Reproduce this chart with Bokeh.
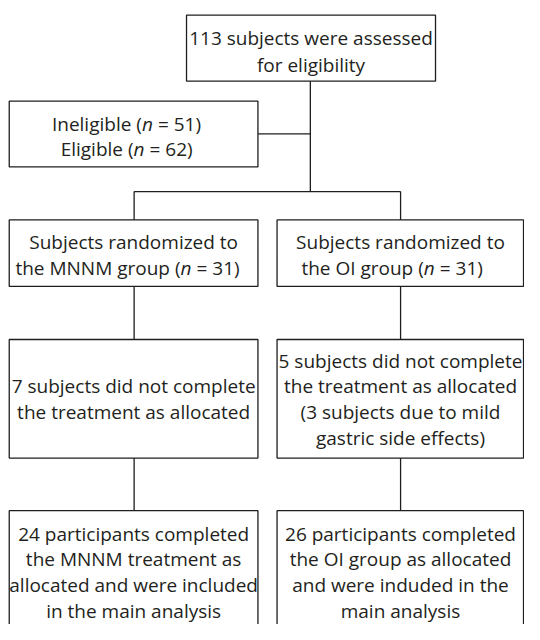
from bokeh.plotting import figure
from bokeh.models import Range1d
from bokeh.core.properties import value
from bokeh.embed import file_html
from bokeh.resources import INLINE

# ---- data (numbers shown in the flow chart) ----
assessed = 113
ineligible = 51
eligible = 62
randomized = [31, 31]          # MNNM, OI
not_completed = [7, 5]
gastric = 3
completed = [24, 26]
group_names = ["MNNM", "OI"]

# ---- text content ----
top_lines = [f"{assessed} subjects were assessed", "for eligibility"]
elig_lines = [("Ineligible (", "n", f"= {ineligible})"), ("Eligible (", "n", f"= {eligible})")]
rand_lines = [
    ["Subjects randomized to", (f"the {group_names[0]} group (", "n", f"= {randomized[0]})")],
    ["Subjects randomized to", (f"the {group_names[1]} group (", "n", f"= {randomized[1]})")],
]
mid_lines = [
    [f"{not_completed[0]} subjects did not complete", "the treatment as allocated"],
    [f"{not_completed[1]} subjects did not complete", "the treatment as allocated",
     f"({gastric} subjects due to mild", "gastric side effects)"],
]
bot_lines = [
    [f"{completed[0]} participants completed", f"the {group_names[0]} treatment as",
     "allocated and were included", "in the main analysis"],
    [f"{completed[1]} participants completed", f"the {group_names[1]} group as allocated",
     "and were induded in the", "main analysis"],
]

# ---- layout (reference pixel coordinates) ----
COLX = [137.2, 412.2]
BOX_L = [(9, 265.3), (285, 539.0)]
TOP_BOX = (191.7, 448.3, 15, 82.7)
ELIG_BOX = (9, 265.3, 103.3, 170.7)
RAND_Y = (225, 293.3)
MID_Y = (347.7, 469.3)
BOT_Y = (523.3, 720)
CENTER_X = 319.3
DY = -6.0   # baseline correction

top_base = [44.3, 71.7]
elig_base = [132.3, 157.8]
rand_base = [254.0, 280.3]
mid_base = [[401.7, 428.3], [376.0, 401.7, 428.3, 455.0]]
bot_base = [552.7, 579.3, 605.7, 631.9]
elig_nx = [146.2, 137.6]
rand_nx = [186.0, 436.7]

FONT = value("Open Sans")
FS = "19px"
TC = "#231f20"
LC = "#1e1e1e"
LW = 1.3

p = figure(width=524, height=624, x_range=Range1d(0, 540), y_range=Range1d(640, 0),
           output_backend="svg", toolbar_location=None, min_border=0,
           background_fill_color="white", border_fill_color="white")
p.axis.visible = False
p.grid.visible = False
p.outline_line_color = None

# boxes
lefts, rights, tops, bottoms = [], [], [], []
for b in [TOP_BOX, ELIG_BOX]:
    lefts.append(b[0]); rights.append(b[1]); tops.append(b[2]); bottoms.append(b[3])
for ys in [RAND_Y, MID_Y, BOT_Y]:
    for (l, r) in BOX_L:
        lefts.append(l); rights.append(r); tops.append(ys[0]); bottoms.append(ys[1])
p.quad(left=lefts, right=rights, top=tops, bottom=bottoms,
       fill_color="white", line_color=LC, line_width=LW)

# connectors
xs0, ys0, xs1, ys1 = [], [], [], []
def seg(a, b, c, d):
    xs0.append(a); ys0.append(b); xs1.append(c); ys1.append(d)
seg(CENTER_X, TOP_BOX[3], CENTER_X, 196)
seg(ELIG_BOX[1], 136.7, CENTER_X, 136.7)
seg(137.7, 196, 412.3, 196)
for cx in [137.7, 412.3]:
    seg(cx, 196, cx, RAND_Y[0])
    seg(cx, RAND_Y[1], cx, MID_Y[0])
    seg(cx, MID_Y[1], cx, BOT_Y[0])
p.segment(x0=xs0, y0=ys0, x1=xs1, y1=ys1, line_color=LC, line_width=LW)

# plain text
tx, ty, tt = [], [], []
def add(x, y, s):
    tx.append(x); ty.append(y + DY); tt.append(s)
for s, y in zip(top_lines, top_base):
    add(320, y, s)
for i in range(2):
    add(COLX[i], rand_base[0], rand_lines[i][0])
    for s, y in zip(mid_lines[i], mid_base[i]):
        add(COLX[i], y, s)
    for s, y in zip(bot_lines[i], bot_base):
        add(COLX[i], y, s)
p.text(x=tx, y=ty, text=tt, text_align="center", text_baseline="alphabetic",
       text_font=FONT, text_font_size=FS, text_color=TC)

# lines with an italic n
pre_x, pre_y, pre_t = [], [], []
n_x, n_y = [], []
suf_x, suf_y, suf_t = [], [], []
mixed = [(elig_lines[0], elig_nx[0], elig_base[0]),
         (elig_lines[1], elig_nx[1], elig_base[1]),
         (rand_lines[0][1], rand_nx[0], rand_base[1]),
         (rand_lines[1][1], rand_nx[1], rand_base[1])]
for (pre, nn, suf), nx, y in mixed:
    pre_x.append(nx - 0.5); pre_y.append(y + DY); pre_t.append(pre)
    n_x.append(nx - 0.5); n_y.append(y + DY)
    suf_x.append(nx + 16.0); suf_y.append(y + DY); suf_t.append(suf)
p.text(x=pre_x, y=pre_y, text=pre_t, text_align="right", text_baseline="alphabetic",
       text_font=FONT, text_font_size=FS, text_color=TC)
p.text(x=n_x, y=n_y, text=["n"] * len(n_x), text_align="left", text_baseline="alphabetic",
       text_font=FONT, text_font_size=FS, text_font_style="italic", text_color=TC)
p.text(x=suf_x, y=suf_y, text=suf_t, text_align="left", text_baseline="alphabetic",
       text_font=FONT, text_font_size=FS, text_color=TC)

open("out.html", "w").write(file_html(p, INLINE))
